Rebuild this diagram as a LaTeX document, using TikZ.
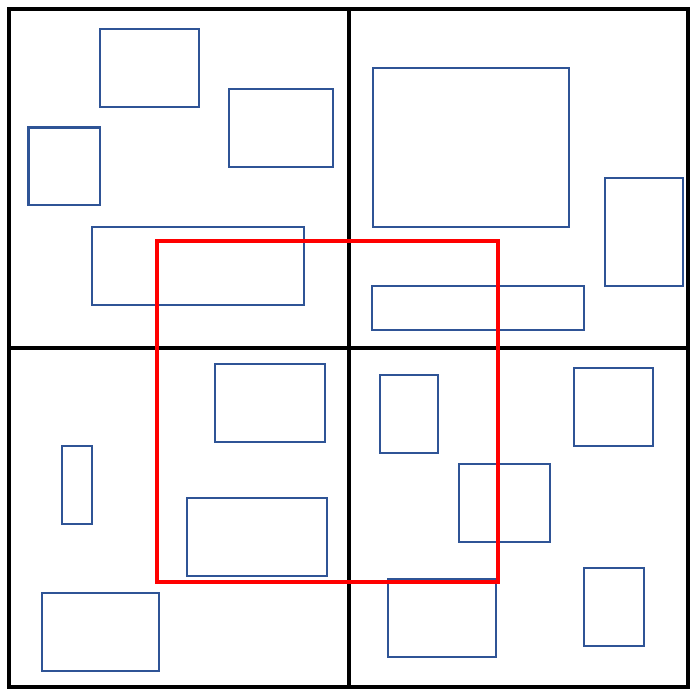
\documentclass[tikz,border=0pt]{standalone}
\usepackage{tikz}
\definecolor{boxblue}{HTML}{2F5496}

\begin{document}
\begin{tikzpicture}[x=1pt, y=-1pt,
    grid/.style={draw=black, line width=4pt},
    box/.style={draw=boxblue, line width=2.9pt},
    query/.style={draw=red, line width=4pt}]
        \useasboundingbox (0,0) rectangle (700,699);
        % quadrants
        \draw[grid] (9,9) rectangle (688,687);
        \draw[grid] (349,9) -- (349,687);
        \draw[grid] (9,348) -- (688,348);
        % objects
        \draw[box] (100,29) rectangle (199,107);
        \draw[box] (229,89) rectangle (333,167);
        \draw[box] (28.5,127.5) rectangle (100,205);
        \draw[box] (92,227) rectangle (304,305);
        \draw[box] (373,68) rectangle (569,227);
        \draw[box] (605,178) rectangle (683,286);
        \draw[box] (372,286) rectangle (584,330);
        \draw[box] (215,364) rectangle (325,442);
        \draw[box] (380,375) rectangle (438,453);
        \draw[box] (574,368) rectangle (653,446);
        \draw[box] (62,446) rectangle (92,524);
        \draw[box] (459,464) rectangle (550,542);
        \draw[box] (187,498) rectangle (327,576);
        \draw[box] (42,593) rectangle (159,671);
        \draw[box] (388,579) rectangle (496,657);
        \draw[box] (584,568) rectangle (644,646);
        % query window
        \draw[query] (157,241) rectangle (497.5,582);
\end{tikzpicture}
\end{document}
